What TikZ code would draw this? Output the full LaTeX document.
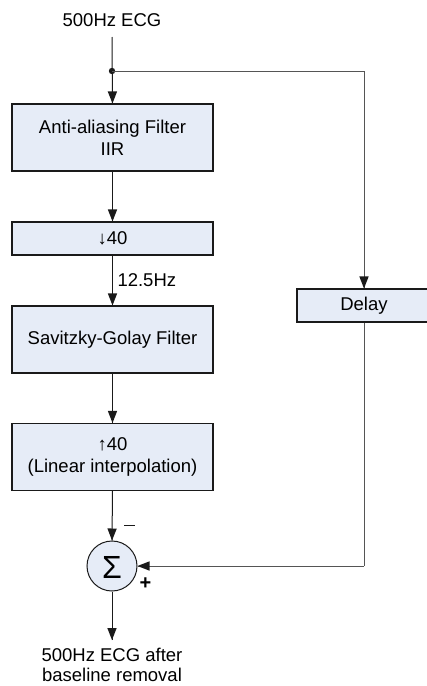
\documentclass[tikz,border=0pt]{standalone}
\usepackage{fontspec}
\setmainfont{Liberation Sans}
\usetikzlibrary{decorations.markings}
\definecolor{boxfill}{HTML}{E6ECF7}
\definecolor{lineblack}{HTML}{1A1A1A}
\definecolor{linegray}{HTML}{555555}
\tikzset{
  headtip/.style={postaction={decorate, decoration={markings,
     mark=at position 1 with {\fill[#1] (0pt,0pt) -- (-12pt,4.7pt) -- (-12pt,-4.7pt) -- cycle;}}}},
  blockbox/.style={draw=lineblack, line width=1.1pt, fill=boxfill, inner sep=0pt, align=center,
    font=\fontsize{18.5}{22}\selectfont},
  conn/.style={draw=lineblack, line width=1pt, headtip=lineblack},
  fb/.style={draw=linegray, line width=1pt},
  fbarrow/.style={draw=linegray, line width=1pt, headtip=lineblack},
  lbl/.style={font=\fontsize{18.5}{22}\selectfont, inner sep=0pt, align=center},
}
\begin{document}
\begin{tikzpicture}[x=1pt,y=-1pt]
\useasboundingbox (0,0) rectangle (427,686);
% nodes
\node[lbl, anchor=base] (in) at (112,26) {500Hz ECG};
\coordinate (instart) at (112,37);
\coordinate (split) at (112,71);
\coordinate (corner1) at (364,71);
\node[blockbox, minimum width=201pt, minimum height=67pt] (aa) at (112.5,137.5) {Anti-aliasing Filter\\IIR};
\node[blockbox, minimum width=201pt, minimum height=33pt] (down) at (112.5,238.5) {↓40};
\node[blockbox, minimum width=201pt, minimum height=67pt] (sg) at (112.5,339.5) {Savitzky-Golay Filter};
\node[blockbox, minimum width=201pt, minimum height=67pt] (up) at (112.5,457) {↑40\\(Linear interpolation)};
\begin{scope}
\clip (0,0) rectangle (427,686);
\node[blockbox, minimum width=134pt, minimum height=33pt] (delay) at (364,305.5) {Delay};
\end{scope}
\node[draw=lineblack, line width=1pt, fill=boxfill, circle, minimum size=50pt, inner sep=0pt] (sum) at (112,566) {};
\node[inner sep=0pt, font=\fontsize{32}{32}\selectfont] (sigma) at (112,567) {Σ};
\coordinate (corner2) at (364,566);
\coordinate (outend) at (112,640);
\node[lbl, anchor=base] (out1) at (112,661) {500Hz ECG after};
\node[lbl, anchor=base] (out2) at (112,681) {baseline removal};
% connectors
\draw[conn] (instart) -- (aa.north);
\fill[lineblack] (split) circle (3.2pt);
\draw[fb] (split) -- (corner1);
\draw[fbarrow] (corner1) -- (delay.north);
\draw[fb] (delay.south) -- (corner2);
\draw[fbarrow] (corner2) -- (sum.east);
\draw[conn] (aa.south) -- (down.north);
\draw[conn] (down.south) -- node[lbl, anchor=base west, pos=0.627, xshift=4.5pt] (rate) {12.5Hz} (sg.north);
\draw[conn] (sg.south) -- (up.north);
\draw[conn] (up.south) -- (sum.north);
\draw[conn] (sum.south) -- (outend);
% signs
\draw[draw=lineblack, line width=1pt] (124,525) -- (135,525);
\node[inner sep=0pt, font=\bfseries\fontsize{20}{20}\selectfont] (plus) at (145.5,583.5) {+};
\end{tikzpicture}
\end{document}
